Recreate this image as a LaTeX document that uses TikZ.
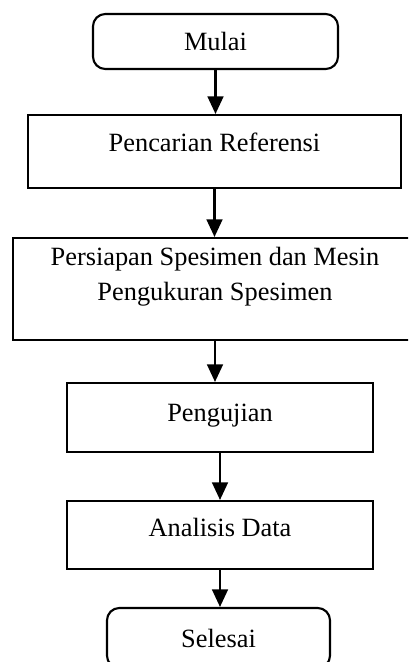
\documentclass[tikz,border=0pt]{standalone}
\usepackage{fontspec}
\setmainfont{Liberation Serif}
\usepackage{tikz}
\usetikzlibrary{arrows.meta}

\begin{document}
\begin{tikzpicture}[
  kotak/.style={draw,line width=1.2pt,rectangle,align=center,inner sep=0pt,
    font=\fontsize{15}{20}\selectfont},
  terminal/.style={kotak,rounded corners=7pt},
  panah/.style={line width=1.2pt,-{Triangle[length=10pt,width=9pt]}}]
\useasboundingbox (0,0) rectangle (8.16,-13.24);
\clip (0,0) rectangle (8.16,-13.24);
\node[terminal,minimum width=4.9cm,minimum height=1.1cm] (mulai) at (4.31,-0.83) {Mulai};
\node[kotak,minimum width=7.46cm,minimum height=1.46cm,text height=6pt,text depth=5.6pt] (referensi) at (4.29,-3.03) {Pencarian Referensi};
\node[kotak,minimum width=8.08cm,minimum height=2.04cm,text depth=17pt] (persiapan) at (4.30,-5.78) {Persiapan Spesimen dan Mesin\\Pengukuran Spesimen};
\node[kotak,minimum width=6.12cm,minimum height=1.38cm,text height=8pt,text depth=3.2pt] (pengujian) at (4.40,-8.35) {Pengujian};
\node[kotak,minimum width=6.12cm,minimum height=1.36cm,text height=7pt,text depth=5pt] (analisis) at (4.40,-10.70) {Analisis Data};
\node[terminal,minimum width=4.46cm,minimum height=1.2cm] (selesai) at (4.37,-12.76) {Selesai};
\draw[panah] (mulai.south) -- (mulai.south |- referensi.north);
\draw[panah] (referensi.south) -- (referensi.south |- persiapan.north);
\draw[panah] (persiapan.south) -- (persiapan.south |- pengujian.north);
\draw[panah] (pengujian.south) -- (pengujian.south |- analisis.north);
\draw[panah] (analisis.south) -- (analisis.south |- selesai.north);
\end{tikzpicture}
\end{document}
